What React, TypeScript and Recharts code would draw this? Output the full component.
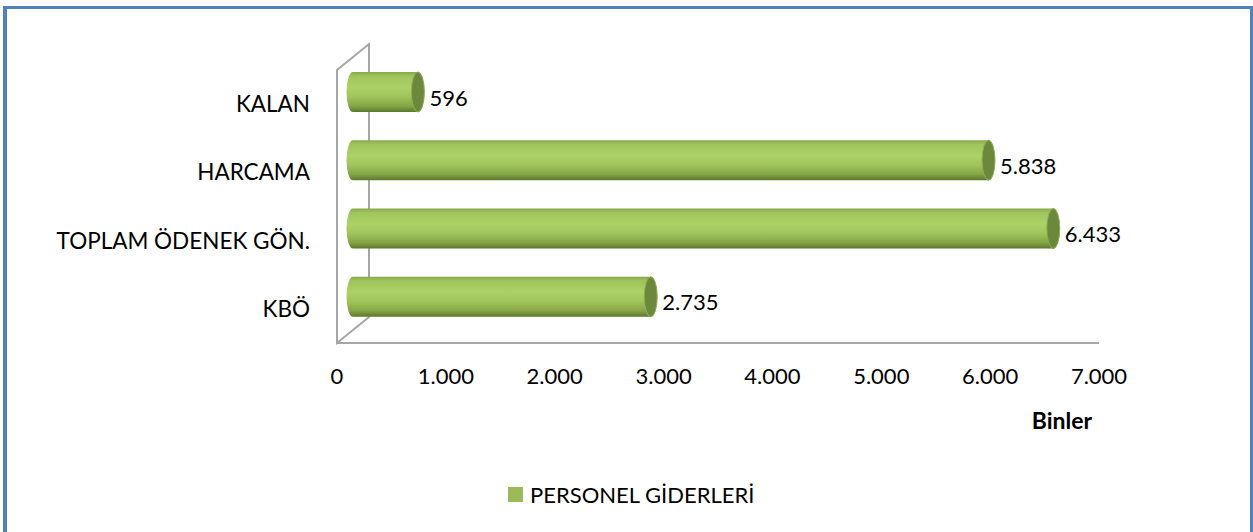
import React from "react";
import { BarChart, Bar, XAxis, YAxis, LabelList, Label } from "recharts";

const categories = ["KALAN", "HARCAMA", "TOPLAM ÖDENEK GÖN.", "KBÖ"];
const personelValues = [596, 5838, 6433, 2735];
const xTicks = [0, 1000, 2000, 3000, 4000, 5000, 6000, 7000];
const SERIES_NAME = "PERSONEL GİDERLERİ";
const UNIT_LABEL = "Binler";

const W = 1253;
const H = 532;
const FONT = "Lato, 'Open Sans', sans-serif";
const WALL = "#a6a6a6";
const BORDER = "#4f81bd";
const LEGEND_GREEN = "#9bbb59";

// plot area (front plane of the 3D box)
const PLOT_LEFT = 337;
const PLOT_TOP = 70;
const PLOT_RIGHT = 1099;
const PLOT_BOTTOM = 343;
const X_AXIS_H = 40;
// 3D depth of the wall and the offset of the cylinders inside it
const DEPTH_X = 32;
const DEPTH_Y = 26;
const BAR_DX = 16;
const BAR_DY = -12;
const CAP_RX = 6.5;

const data = categories.map((name, i) => ({ name, value: personelValues[i] }));

const fmt = (v: number) => String(v).replace(/\B(?=(\d{3})+(?!\d))/g, ".");

const Cylinder = (props: any) => {
  const { x, y, width, height, index } = props;
  const cx0 = x + BAR_DX;
  const cx1 = x + width + BAR_DX;
  const top = y + BAR_DY;
  const bottom = top + height;
  const ry = height / 2;
  const id = `cyl-${index}`;
  const body = `M${cx0},${top} L${cx1},${top} A${CAP_RX},${ry} 0 0 1 ${cx1},${bottom} L${cx0},${bottom} A${CAP_RX},${ry} 0 0 1 ${cx0},${top} Z`;
  return (
    <g>
      <defs>
        <linearGradient id={id} x1="0" y1="0" x2="0" y2="1">
          <stop offset="0" stopColor="#88a84a" />
          <stop offset="0.1" stopColor="#a0c45c" />
          <stop offset="0.38" stopColor="#acd266" />
          <stop offset="0.62" stopColor="#a0c45b" />
          <stop offset="0.85" stopColor="#85a546" />
          <stop offset="1" stopColor="#5b782c" />
        </linearGradient>
      </defs>
      <path d={body} fill={`url(#${id})`} />
      <ellipse cx={cx1} cy={top + ry} rx={CAP_RX} ry={ry} fill="#6c883c" stroke="#91b055" strokeWidth={1} />
    </g>
  );
};

const ValueLabel = (props: any) => {
  const { x, y, width, height, value } = props;
  return (
    <text
      x={x + width + BAR_DX + CAP_RX + 5}
      y={y + BAR_DY + height / 2 + 6}
      dy="0.35em"
      fontSize={22}
      fontFamily={FONT}
      fill="#000"
    >
      {fmt(value)}
    </text>
  );
};

const UnitLabel = (props: any) => {
  const { viewBox } = props;
  return (
    <text
      x={viewBox.x + viewBox.width - 37}
      y={viewBox.y + 78}
      dy="0.35em"
      textAnchor="middle"
      fontSize={23}
      fontWeight="bold"
      fontFamily={FONT}
      fill="#000"
    >
      {UNIT_LABEL}
    </text>
  );
};

const Wall = () => (
  <svg width={W} height={H} style={{ position: "absolute", left: 0, top: 0 }}>
    <polygon
      points={`${PLOT_LEFT},${PLOT_TOP} ${PLOT_LEFT + DEPTH_X},${PLOT_TOP - DEPTH_Y} ${PLOT_LEFT + DEPTH_X},${PLOT_BOTTOM - DEPTH_Y} ${PLOT_LEFT},${PLOT_BOTTOM}`}
      fill="none"
      stroke={WALL}
      strokeWidth={2}
    />
  </svg>
);

export default function App() {
  return (
    <div style={{ position: "absolute", left: 0, top: 0, width: W, height: H, overflow: "hidden", background: "#fff" }}>
      <div
        style={{
          position: "absolute",
          left: 3,
          top: 6,
          width: W - 3,
          height: H + 20,
          boxSizing: "border-box",
          borderTop: `3px solid ${BORDER}`,
          borderRight: `3px solid ${BORDER}`,
          borderLeft: `4px solid ${BORDER}`,
        }}
      />
      <Wall />
      <div style={{ position: "absolute", left: 0, top: 0 }}>
        <BarChart
          width={W}
          height={H}
          data={data}
          layout="vertical"
          margin={{ top: PLOT_TOP, right: W - PLOT_RIGHT, left: 0, bottom: H - PLOT_BOTTOM - X_AXIS_H }}
          barSize={40}
        >
          <XAxis
            type="number"
            domain={[0, 7000]}
            ticks={xTicks}
            tickFormatter={fmt}
            height={X_AXIS_H}
            tickLine={false}
            tickSize={0}
            tickMargin={25}
            axisLine={{ stroke: WALL, strokeWidth: 2 }}
            tick={{ fill: "#000", fontSize: 22, fontFamily: FONT }}
            interval={0}
          >
            <Label content={<UnitLabel />} />
          </XAxis>
          <YAxis
            type="category"
            dataKey="name"
            width={PLOT_LEFT}
            tickLine={false}
            tickSize={0}
            tickMargin={27}
            axisLine={false}
            tick={{ fill: "#000", fontSize: 22.5, fontFamily: FONT }}
            interval={0}
          />
          <Bar dataKey="value" name={SERIES_NAME} shape={<Cylinder />} isAnimationActive={false}>
            <LabelList dataKey="value" content={<ValueLabel />} />
          </Bar>
        </BarChart>
      </div>
      <div
        style={{
          position: "absolute",
          left: 508,
          top: 481,
          display: "flex",
          alignItems: "center",
          fontFamily: FONT,
          fontSize: 22,
          color: "#000",
          whiteSpace: "nowrap",
        }}
      >
        <span style={{ display: "inline-block", width: 15, height: 15, background: LEGEND_GREEN, marginRight: 7 }} />
        {SERIES_NAME}
      </div>
    </div>
  );
}
